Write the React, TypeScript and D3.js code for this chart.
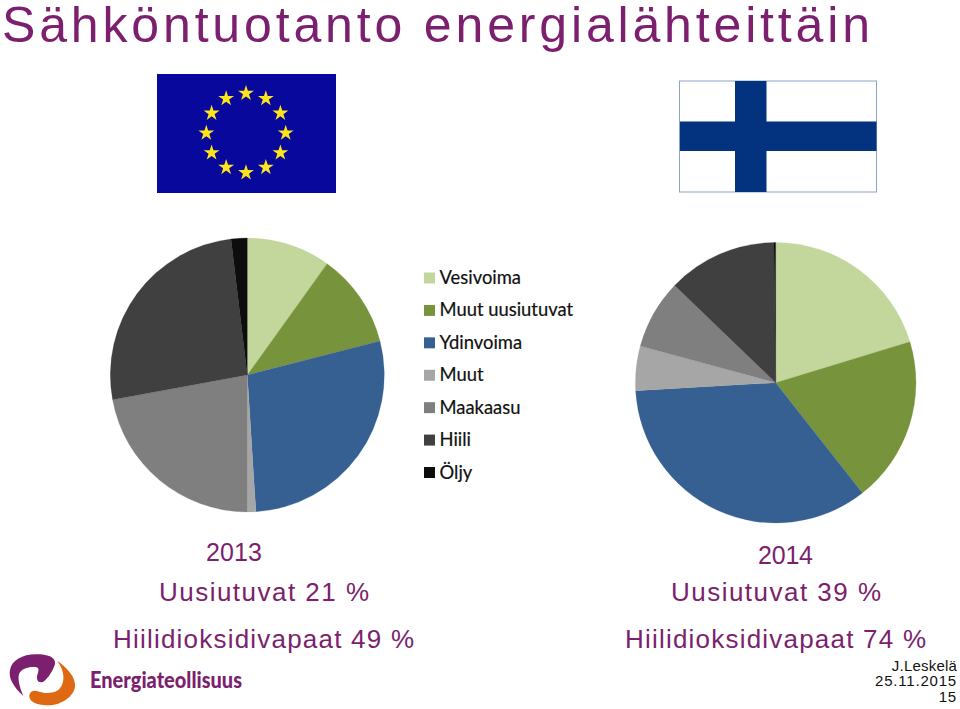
import * as d3 from 'd3';

const sources = ['Vesivoima', 'Muut uusiutuvat', 'Ydinvoima', 'Muut', 'Maakaasu', 'Hiili', 'Öljy'];
const colors = ['#c3d69b', '#77933c', '#376092', '#a6a6a6', '#7f7f7f', '#404040', '#0d0d0d'];
const shares2013 = [9.9, 11.1, 28.0, 1.0, 22.1, 26.0, 1.9];
const shares2014 = [20.3, 19.1, 34.7, 5.1, 8.0, 12.6, 0.2];

const PURPLE = '#7b1f6e';
const SANS = '"Liberation Sans", Arial, sans-serif';

function Pie({ values, cx, cy, r }: { values: number[]; cx: number; cy: number; r: number }) {
  const pie = d3.pie<number>().sort(null);
  const arc = d3.arc<d3.PieArcDatum<number>>().innerRadius(0).outerRadius(r);
  return (
    <g transform={`translate(${cx},${cy})`}>
      {pie(values).map((d, i) => (
        <path key={sources[i]} d={arc(d) ?? ''} fill={colors[i]} stroke={colors[i]} strokeWidth={0.2} />
      ))}
    </g>
  );
}

// Fits each caption to the width it has in the slide
function Caption({ x, y, width, size, children }: { x: number; y: number; width: number; size: number; children: string }) {
  return (
    <text x={x} y={y} textLength={width} lengthAdjust="spacing" fontSize={size} fontFamily={SANS} fill={PURPLE}>
      {children}
    </text>
  );
}

function EuFlag() {
  const star = d3.symbol().type(d3.symbolStar).size(78)();
  const angle = d3.scaleLinear().domain([0, 12]).range([0, 2 * Math.PI]);
  return (
    <g>
      <rect x={157} y={74} width={179} height={119} fill="#08089c" />
      {d3.range(12).map(i => (
        <path
          key={i}
          d={star ?? ''}
          fill="#fde41c"
          transform={`translate(${246 + 39.7 * Math.sin(angle(i))},${133 - 39.7 * Math.cos(angle(i))})`}
        />
      ))}
    </g>
  );
}

function FinnishFlag() {
  return (
    <g>
      <rect x={679.5} y={81} width={197} height={111} fill="#fff" stroke="#8ea3c9" strokeWidth={1} />
      <rect x={735} y={81} width={31.5} height={111} fill="#03337f" />
      <rect x={680} y={121.5} width={196.5} height={29.5} fill="#03337f" />
    </g>
  );
}

function Legend() {
  const y = d3.scalePoint<string>().domain(sources).range([278, 472.5]);
  return (
    <g>
      {sources.map((s, i) => (
        <g key={s}>
          <rect x={424} y={(y(s) ?? 0) - 5.5} width={11} height={11} fill={colors[i]} />
          <text x={439.5} y={(y(s) ?? 0) + 6} fontSize={18.4} fontFamily="Lato, sans-serif" fill="#111" stroke="#111" strokeWidth={0.2}>
            {s}
          </text>
        </g>
      ))}
    </g>
  );
}

function Logo() {
  return (
    <g>
      <g transform="translate(0,640) scale(0.3333)">
        <path
          d="M70,168 C40,140 25,115 30,90 C35,60 70,42 110,43 C140,43 168,50 165,72 C160,90 145,115 130,125 C115,132 108,118 112,105 C116,92 118,85 110,82 C90,78 65,85 58,100 C52,115 58,140 70,168 Z"
          fill={PURPLE}
        />
        <path
          d="M172,63 C205,85 228,115 225,140 C222,170 180,198 140,196 C110,195 85,185 88,165 C92,150 105,150 118,155 C140,162 170,160 180,145 C195,125 195,95 172,63 Z"
          fill="#dd6a12"
        />
      </g>
      <text x={90} y={688} textLength={152} lengthAdjust="spacingAndGlyphs" fontSize={23} fontWeight={900} fontFamily="Lato, sans-serif" fill={PURPLE}>
        Energiateollisuus
      </text>
    </g>
  );
}

export default function App() {
  return (
    <svg width={960} height={709} style={{ position: 'absolute', left: 0, top: 0, display: 'block', background: '#fff' }}>
      <Caption x={2} y={41.5} width={868} size={50}>Sähköntuotanto energialähteittäin</Caption>

      <EuFlag />
      <FinnishFlag />

      <Pie values={shares2013} cx={247.3} cy={375} r={137} />
      <Pie values={shares2014} cx={775.7} cy={382.7} r={140.3} />
      <Legend />

      <Caption x={206} y={560.5} width={56} size={25}>2013</Caption>
      <Caption x={159} y={601} width={210} size={26}>Uusiutuvat 21 %</Caption>
      <Caption x={113} y={647.5} width={301} size={26}>Hiilidioksidivapaat 49 %</Caption>

      <Caption x={758} y={564} width={55} size={25}>2014</Caption>
      <Caption x={671} y={601} width={210} size={26}>Uusiutuvat 39 %</Caption>
      <Caption x={625} y={647.5} width={301} size={26}>Hiilidioksidivapaat 74 %</Caption>

      <Logo />

      <g fontFamily={SANS} fontSize={15} fill="#111" textAnchor="end">
        <text x={957} y={671} letterSpacing={0.2}>J.Leskelä</text>
        <text x={957} y={686} letterSpacing={0.8}>25.11.2015</text>
        <text x={957} y={702} letterSpacing={0.8}>15</text>
      </g>
    </svg>
  );
}
